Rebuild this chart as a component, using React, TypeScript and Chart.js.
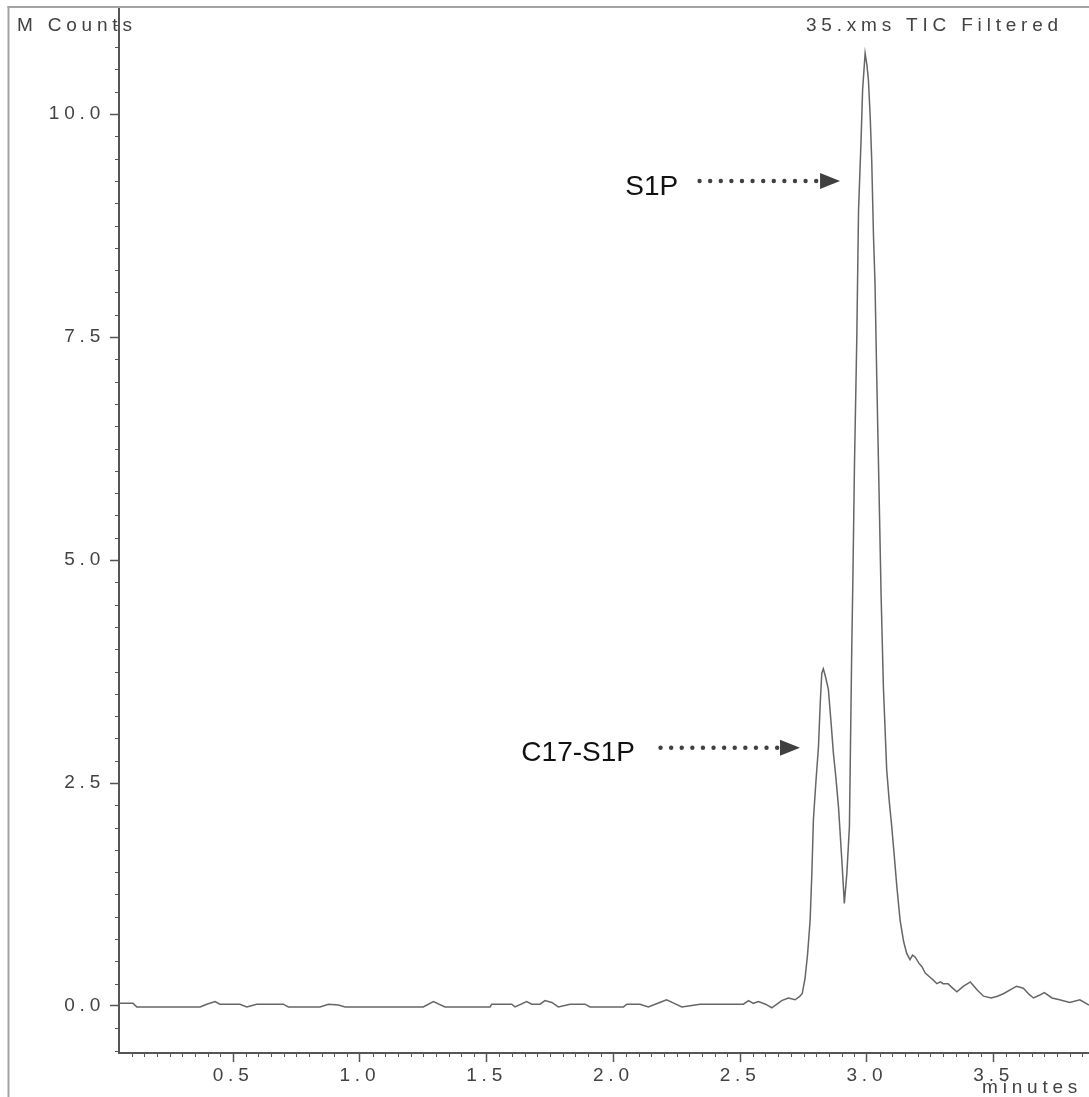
import React, { useEffect, useRef } from 'react';
import { Chart, registerables } from 'chart.js';

Chart.register(...registerables);

// Retention time (minutes) and TIC intensity (M counts)
const minutes = [
  0.050, 0.080, 0.105, 0.120, 0.200, 0.300, 0.370, 0.396, 0.429, 0.448,
  0.527, 0.554, 0.593, 0.698, 0.718, 0.843, 0.876, 0.915, 0.942, 1.050,
  1.150, 1.250, 1.290, 1.336, 1.420, 1.514, 1.520, 1.599, 1.612, 1.658,
  1.678, 1.711, 1.730, 1.757, 1.783, 1.829, 1.888, 1.908, 1.960, 2.040,
  2.053, 2.105, 2.138, 2.175, 2.210, 2.240, 2.270, 2.342, 2.420, 2.513,
  2.533, 2.552, 2.572, 2.600, 2.625, 2.645, 2.664, 2.690, 2.717, 2.736,
  2.745, 2.756, 2.766, 2.776, 2.783, 2.789, 2.799, 2.809, 2.816, 2.822,
  2.828, 2.836, 2.848, 2.858, 2.868, 2.878, 2.888, 2.901, 2.911, 2.921,
  2.931, 2.940, 2.945, 2.951, 2.960, 2.967, 2.977, 2.983, 2.993, 3.000,
  3.006, 3.013, 3.019, 3.026, 3.032, 3.039, 3.048, 3.056, 3.065, 3.078,
  3.088, 3.098, 3.108, 3.118, 3.131, 3.145, 3.157, 3.170, 3.180, 3.190,
  3.205, 3.217, 3.230, 3.250, 3.262, 3.276, 3.290, 3.300, 3.320, 3.338,
  3.355, 3.380, 3.408, 3.435, 3.460, 3.490, 3.515, 3.540, 3.570, 3.590,
  3.617, 3.640, 3.657, 3.680, 3.700, 3.730, 3.760, 3.800, 3.840, 3.876,
];
const mcounts = [
  0.03, 0.03, 0.03, -0.01, -0.01, -0.01, -0.01, 0.02, 0.05, 0.02,
  0.02, -0.01, 0.02, 0.02, -0.01, -0.01, 0.02, 0.01, -0.01, -0.01,
  -0.01, -0.01, 0.05, -0.01, -0.01, -0.01, 0.02, 0.02, -0.01, 0.05,
  0.02, 0.02, 0.06, 0.04, -0.01, 0.02, 0.02, -0.01, -0.01, -0.01,
  0.02, 0.02, -0.01, 0.03, 0.07, 0.03, -0.01, 0.02, 0.02, 0.02,
  0.06, 0.03, 0.05, 0.02, -0.02, 0.02, 0.06, 0.09, 0.07, 0.11,
  0.14, 0.31, 0.58, 0.96, 1.50, 2.09, 2.52, 2.91, 3.40, 3.73,
  3.78, 3.70, 3.55, 3.20, 2.83, 2.55, 2.23, 1.64, 1.15, 1.49,
  2.01, 3.96, 4.85, 6.08, 7.47, 8.92, 9.71, 10.27, 10.68, 10.55,
  10.38, 9.97, 9.48, 8.63, 8.10, 7.02, 5.75, 4.60, 3.58, 2.65,
  2.30, 2.01, 1.68, 1.34, 0.96, 0.72, 0.59, 0.52, 0.57, 0.55,
  0.48, 0.44, 0.37, 0.32, 0.29, 0.25, 0.27, 0.25, 0.25, 0.20,
  0.16, 0.22, 0.27, 0.18, 0.11, 0.09, 0.11, 0.14, 0.19, 0.22,
  0.20, 0.13, 0.09, 0.12, 0.15, 0.09, 0.07, 0.04, 0.07, 0.01,
];

// Axis ticks
const xTickValues = [0.5, 1.0, 1.5, 2.0, 2.5, 3.0, 3.5];
const yTickValues = [0.0, 2.5, 5.0, 7.5, 10.0];
const xMinorStep = 0.05;
const yMinorStep = 0.25;
const xRange = [0.05, 3.876];
const yRange = [-0.527, 11.2];

// Texts
const yUnitLabel = 'M Counts';
const xUnitLabel = 'minutes';
const traceTitle = '35.xms TIC Filtered';

// Peak annotations (label, label anchor in data units, arrow in data units)
const peakNames = ['S1P', 'C17-S1P'];
const peakLabelX = [2.047, 1.637];
const peakLabelY = [9.09, 2.75];
const arrowY = [9.25, 2.896];
const arrowStartX = [2.340, 2.186];
const arrowTipX = [2.894, 2.736];

const FONT = "'Liberation Sans', Arial, sans-serif";
const FONT_SIZE = 19;
const LS = '4.8px';
const AXIS_COLOR = '#555555';
const TEXT_COLOR = '#424242';

const decorPlugin = {
  id: 'decor',
  beforeLayout(chart: any) {
    chart.ctx.letterSpacing = LS;
  },
  beforeDraw(chart: any) {
    const ctx = chart.ctx;
    ctx.save();
    ctx.fillStyle = '#ffffff';
    ctx.fillRect(0, 0, chart.width, chart.height);
    ctx.restore();
    ctx.letterSpacing = LS;
  },
  afterDraw(chart: any) {
    const ctx = chart.ctx;
    const xs = chart.scales.x;
    const ys = chart.scales.y;
    const area = chart.chartArea;
    ctx.save();

    // outer frame
    ctx.fillStyle = '#a3a3a3';
    ctx.fillRect(7.5, 6, 2, chart.height - 6);
    ctx.fillRect(7.5, 6, chart.width - 7.5, 2);

    // minor ticks
    ctx.strokeStyle = AXIS_COLOR;
    ctx.lineWidth = 1;
    ctx.beginPath();
    for (let i = 2; i * xMinorStep <= xRange[1]; i++) {
      if (i % 10 === 0) continue;
      const px = Math.round(xs.getPixelForValue(i * xMinorStep)) + 0.5;
      ctx.moveTo(px, area.bottom);
      ctx.lineTo(px, area.bottom + 4);
    }
    for (let i = -2; i * yMinorStep <= yRange[1]; i++) {
      if (i % 10 === 0) continue;
      const py = Math.round(ys.getPixelForValue(i * yMinorStep)) + 0.5;
      ctx.moveTo(area.left - 4, py);
      ctx.lineTo(area.left, py);
    }
    ctx.stroke();

    // unit labels / title
    ctx.letterSpacing = LS;
    ctx.font = `${FONT_SIZE}px ${FONT}`;
    ctx.fillStyle = TEXT_COLOR;
    ctx.textBaseline = 'middle';
    ctx.textAlign = 'left';
    ctx.fillText(yUnitLabel, 17, 26);
    ctx.fillText(traceTitle, 806, 26);
    ctx.fillText(xUnitLabel, 982, 1088);

    // peak annotations
    ctx.letterSpacing = '0px';
    ctx.font = `28px ${FONT}`;
    ctx.textBaseline = 'alphabetic';
    for (let k = 0; k < peakNames.length; k++) {
      ctx.fillStyle = '#111111';
      ctx.fillText(peakNames[k], xs.getPixelForValue(peakLabelX[k]), ys.getPixelForValue(peakLabelY[k]));
      const y = ys.getPixelForValue(arrowY[k]);
      const x0 = xs.getPixelForValue(arrowStartX[k]);
      const tip = xs.getPixelForValue(arrowTipX[k]);
      const base = tip - 20;
      ctx.fillStyle = '#404040';
      for (let x = x0; x <= base + 2; x += 10.6) {
        ctx.beginPath();
        ctx.arc(x, y, 2.2, 0, Math.PI * 2);
        ctx.fill();
      }
      ctx.beginPath();
      ctx.moveTo(base, y - 8);
      ctx.lineTo(tip, y);
      ctx.lineTo(base, y + 8);
      ctx.closePath();
      ctx.fill();
    }
    ctx.restore();
  },
};

export default function App() {
  const canvasRef = useRef<HTMLCanvasElement | null>(null);

  useEffect(() => {
    const canvas = canvasRef.current;
    if (!canvas) return;
    const points = minutes.map((m, i) => ({ x: m, y: mcounts[i] }));
    const chart = new Chart(canvas, {
      type: 'line',
      data: {
        datasets: [
          {
            data: points,
            borderColor: '#666666',
            borderWidth: 1.5,
            pointRadius: 0,
            tension: 0,
            fill: false,
          },
        ],
      },
      options: {
        responsive: false,
        animation: false,
        devicePixelRatio: 1,
        layout: { padding: { left: 0, top: 7, right: 0, bottom: 0 } },
        plugins: {
          legend: { display: false },
          tooltip: { enabled: false },
          title: { display: false },
        },
        scales: {
          x: {
            type: 'linear',
            min: xRange[0],
            max: xRange[1],
            afterBuildTicks: (s: any) => {
              s.ticks = xTickValues.map((v) => ({ value: v }));
            },
            afterFit: (s: any) => {
              s.height = 44;
              s.paddingLeft = 0;
              s.paddingRight = 0;
            },
            grid: {
              drawOnChartArea: false,
              drawTicks: true,
              tickLength: 9,
              tickColor: AXIS_COLOR,
              tickWidth: 1.5,
            },
            border: { display: true, color: AXIS_COLOR, width: 2 },
            ticks: {
              callback: (v: any) => Number(v).toFixed(1),
              color: TEXT_COLOR,
              font: { family: FONT, size: FONT_SIZE },
              padding: 2,
              maxRotation: 0,
              autoSkip: false,
            },
          },
          y: {
            type: 'linear',
            min: yRange[0],
            max: yRange[1],
            afterBuildTicks: (s: any) => {
              s.ticks = yTickValues.map((v) => ({ value: v }));
            },
            afterFit: (s: any) => {
              s.width = 119;
              s.paddingTop = 0;
              s.paddingBottom = 0;
            },
            grid: {
              drawOnChartArea: false,
              drawTicks: true,
              tickLength: 9,
              tickColor: AXIS_COLOR,
              tickWidth: 1.5,
            },
            border: { display: true, color: AXIS_COLOR, width: 2 },
            ticks: {
              callback: (v: any) => Number(v).toFixed(1),
              color: TEXT_COLOR,
              font: { family: FONT, size: FONT_SIZE },
              padding: 5,
              autoSkip: false,
            },
          },
        },
      },
      plugins: [decorPlugin],
    } as any);
    return () => {
      chart.destroy();
    };
  }, []);

  return (
    <div
      style={{
        position: 'fixed',
        left: 0,
        top: 0,
        width: 1089,
        height: 1097,
        background: '#ffffff',
        overflow: 'hidden',
      }}
    >
      <canvas ref={canvasRef} width={1089} height={1097} style={{ display: 'block' }} />
    </div>
  );
}
